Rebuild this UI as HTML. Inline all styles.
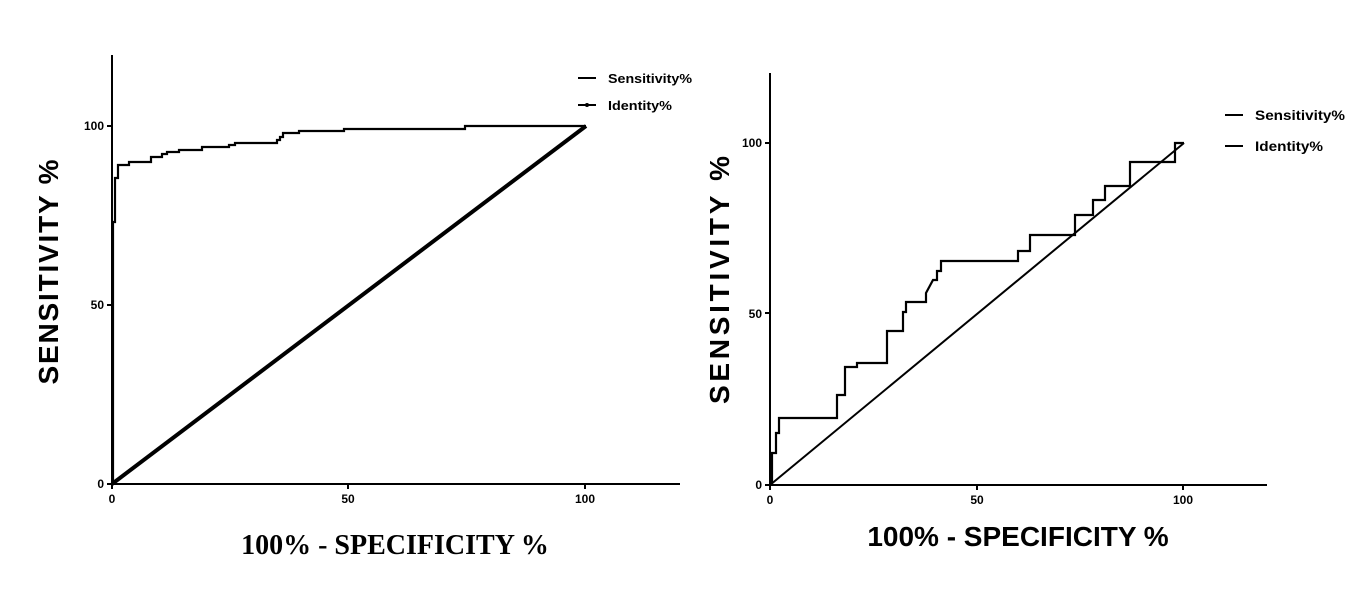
<!DOCTYPE html>
<html><head><style>body{margin:0;background:#fff}svg{display:block}</style></head><body>
<svg width="1372" height="592" viewBox="0 0 1372 592" xmlns="http://www.w3.org/2000/svg" font-family="Liberation Sans, Arial, sans-serif">
<rect width="1372" height="592" fill="#fff"/>
<!-- LEFT CHART -->
<g stroke="#000" stroke-width="2" fill="none">
<path d="M112 55 V484 H680"/>
<path d="M107 126 H112 M107 305 H112 M107 484 H112 M112 484 V489 M348 484 V489 M585 484 V489"/>
</g>
<g font-size="12" font-weight="bold" text-anchor="end">
<text x="104" y="130">100</text><text x="104" y="309">50</text><text x="104" y="488">0</text>
</g>
<g font-size="12" font-weight="bold" text-anchor="middle">
<text x="112" y="503">0</text><text x="348" y="503">50</text><text x="585" y="503">100</text>
</g>
<line x1="112" y1="484" x2="586" y2="126" stroke="#000" stroke-width="4"/>
<path d="M113 484 V222 H115 V178 H118 V165 H129 V162 H151 V157 H162 V154 H167 V152 H179 V150 H202 V147 H229 V145 H235 V143 H277 V140 H280 V137 H283 V133 H299 V131 H344 V129 H465 V126 H586" stroke="#000" stroke-width="2.2" fill="none"/>
<text transform="translate(58,272) rotate(-90)" font-size="28" font-weight="bold" text-anchor="middle" textLength="225" lengthAdjust="spacing">SENSITIVITY   %</text>
<text x="395" y="554" font-family="Liberation Serif, serif" font-size="28" font-weight="bold" text-anchor="middle">100% - SPECIFICITY %</text>
<line x1="578" y1="78" x2="596" y2="78" stroke="#000" stroke-width="2"/>
<text x="608" y="83" font-size="13" font-weight="bold" textLength="84" lengthAdjust="spacingAndGlyphs">Sensitivity%</text>
<line x1="578" y1="105" x2="596" y2="105" stroke="#000" stroke-width="2"/>
<circle cx="587" cy="105" r="2"/>
<text x="608" y="110" font-size="13" font-weight="bold" textLength="64" lengthAdjust="spacingAndGlyphs">Identity%</text>

<!-- RIGHT CHART -->
<g stroke="#000" stroke-width="2" fill="none">
<path d="M770 73 V485 H1267"/>
<path d="M765 143 H770 M765 313 H770 M765 485 H770 M770 485 V490 M977 485 V490 M1183 485 V490"/>
</g>
<g font-size="12" font-weight="bold" text-anchor="end">
<text x="762" y="147">100</text><text x="762" y="318">50</text><text x="762" y="489">0</text>
</g>
<g font-size="12" font-weight="bold" text-anchor="middle">
<text x="770" y="504">0</text><text x="977" y="504">50</text><text x="1183" y="504">100</text>
</g>
<line x1="770" y1="485" x2="1184" y2="143" stroke="#000" stroke-width="2"/>
<path d="M772 485 V453 H776 V433 H779 V418 H837 V395 H845 V367 H857 V363 H887 V331 H903 V312 H906 V302 H926 V293 L933 280 H937 V271 H941 V261 H1018 V251 H1030 V235 H1075 V215 H1093 V200 H1105 V186 H1130 V162 H1175 V143 H1184" stroke="#000" stroke-width="2.2" fill="none"/>
<text transform="translate(729,280) rotate(-90)" font-size="28" font-weight="bold" text-anchor="middle" textLength="248" lengthAdjust="spacing">SENSITIVITY   %</text>
<text x="1018" y="546" font-size="28" font-weight="bold" text-anchor="middle">100% - SPECIFICITY %</text>
<line x1="1225" y1="115" x2="1243" y2="115" stroke="#000" stroke-width="2"/>
<text x="1255" y="120" font-size="14" font-weight="bold" textLength="90" lengthAdjust="spacingAndGlyphs">Sensitivity%</text>
<line x1="1225" y1="146" x2="1243" y2="146" stroke="#000" stroke-width="2"/>
<text x="1255" y="151" font-size="14" font-weight="bold" textLength="68" lengthAdjust="spacingAndGlyphs">Identity%</text>
</svg>
</body></html>
